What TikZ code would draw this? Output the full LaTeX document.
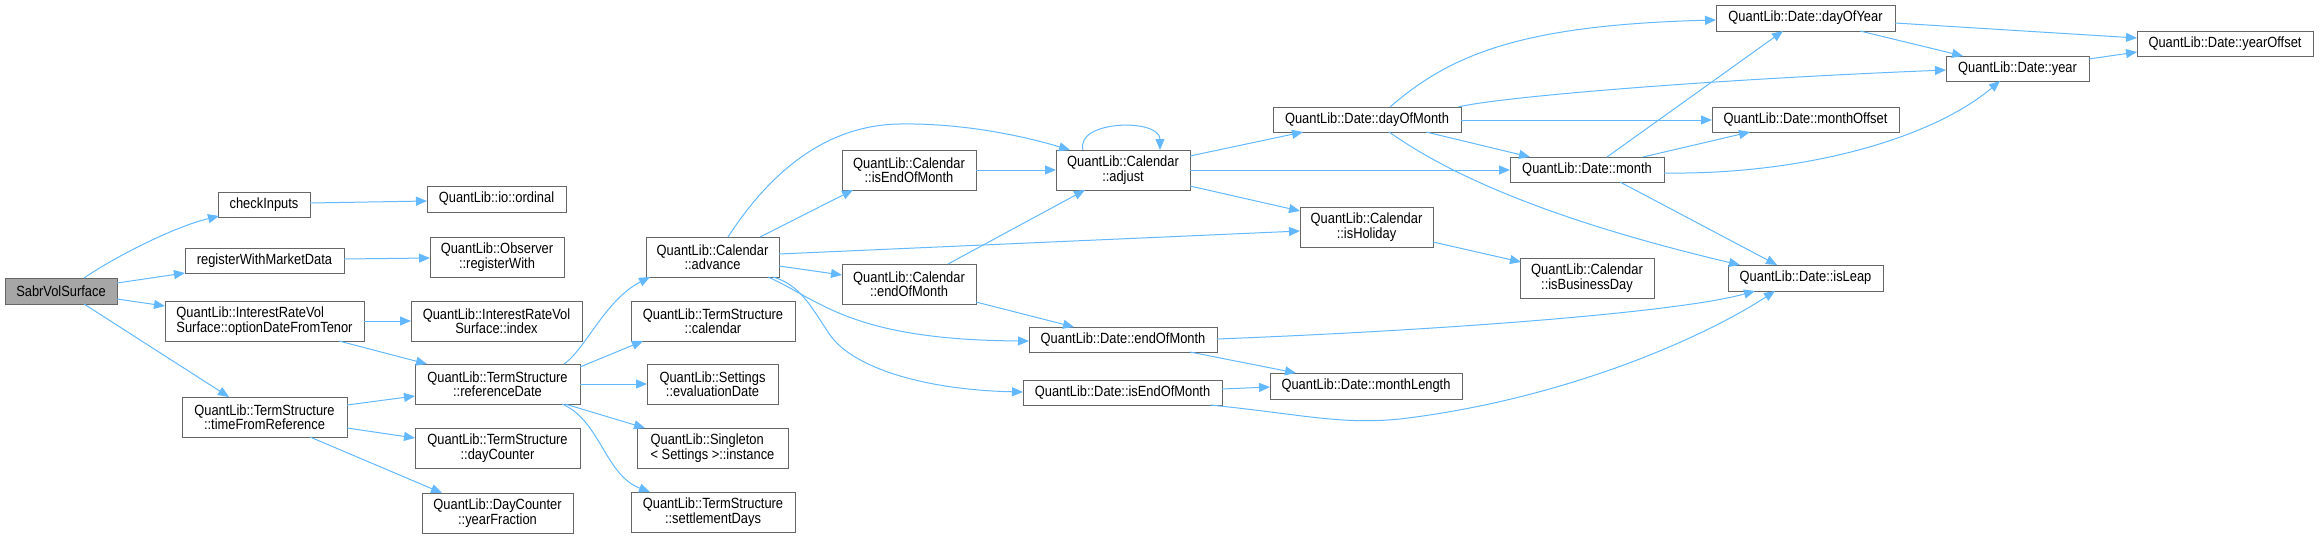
\documentclass[tikz,border=0pt]{standalone}
\usepackage{fontspec}
\setmainfont{Liberation Sans}[FakeStretch=0.87]
\usetikzlibrary{calc,arrows.meta}
\definecolor{edgeblue}{HTML}{63B8FF}
\definecolor{boxgray}{HTML}{666666}
\definecolor{rootfill}{HTML}{A6A6A6}
\tikzset{
  box/.style={draw=boxgray, fill=white, line width=1pt, inner sep=0pt, outer sep=0pt,
    align=center, font=\fontsize{14.8}{14.5}\selectfont},
  leftbox/.style={box, align=left},
  rootbox/.style={box, fill=rootfill},
  e/.style={draw=edgeblue, line width=1pt, -{Triangle[length=11pt,width=9pt]}, fill=none}
}
\begin{document}
\begin{tikzpicture}[x=1pt,y=-1pt]
\useasboundingbox (0,0) rectangle (2319,538);
% column 1
\node[rootbox, minimum width=112pt, minimum height=26pt] (sabr) at (61,291) {SabrVolSurface};
% column 2
\node[box, minimum width=92pt, minimum height=25pt] (checkInputs) at (264,204.5) {checkInputs};
\node[box, minimum width=159pt, minimum height=25pt] (regMD) at (264.5,260.5) {registerWithMarketData};
\node[leftbox, minimum width=199pt, minimum height=40pt] (optDate) at (264.5,321) {QuantLib::InterestRateVol\\Surface::optionDateFromTenor};
\node[box, minimum width=165pt, minimum height=40pt] (timeFromRef) at (264.5,417) {QuantLib::TermStructure\\::timeFromReference};
% column 3
\node[box, minimum width=139pt, minimum height=26pt] (ordinal) at (496.5,199) {QuantLib::io::ordinal};
\node[box, minimum width=134pt, minimum height=40pt] (registerWith) at (497,257) {QuantLib::Observer\\::registerWith};
\node[box, minimum width=171pt, minimum height=40pt] (index) at (496.5,321) {QuantLib::InterestRateVol\\Surface::index};
\node[box, minimum width=165pt, minimum height=40pt] (refDate) at (497.5,384) {QuantLib::TermStructure\\::referenceDate};
\node[box, minimum width=165pt, minimum height=40pt] (dayCounter) at (497.5,448) {QuantLib::TermStructure\\::dayCounter};
\node[box, minimum width=151pt, minimum height=40pt] (yearFraction) at (497.5,513) {QuantLib::DayCounter\\::yearFraction};
% column 4
\node[box, minimum width=133pt, minimum height=40pt] (advance) at (712.5,257) {QuantLib::Calendar\\::advance};
\node[box, minimum width=164pt, minimum height=40pt] (tsCalendar) at (713,321) {QuantLib::TermStructure\\::calendar};
\node[box, minimum width=131pt, minimum height=40pt] (evalDate) at (712.5,384) {QuantLib::Settings\\::evaluationDate};
\node[leftbox, minimum width=151pt, minimum height=40pt] (singleton) at (712.5,448) {QuantLib::Singleton\\< Settings >::instance};
\node[box, minimum width=164pt, minimum height=40pt] (settlementDays) at (713,512) {QuantLib::TermStructure\\::settlementDays};
% column 5
\node[box, minimum width=134pt, minimum height=40pt] (calIsEOM) at (909,170) {QuantLib::Calendar\\::isEndOfMonth};
\node[box, minimum width=134pt, minimum height=40pt] (calEOM) at (909,284) {QuantLib::Calendar\\::endOfMonth};
% column 6
\node[box, minimum width=134pt, minimum height=40pt] (adjust) at (1123,170) {QuantLib::Calendar\\::adjust};
\node[box, minimum width=188pt, minimum height=25pt] (dateEOM) at (1123,339.5) {QuantLib::Date::endOfMonth};
\node[box, minimum width=199pt, minimum height=25pt] (dateIsEOM) at (1122.5,392.5) {QuantLib::Date::isEndOfMonth};
% column 7
\node[box, minimum width=188pt, minimum height=25pt] (dayOfMonth) at (1367,119.5) {QuantLib::Date::dayOfMonth};
\node[box, minimum width=133pt, minimum height=40pt] (isHoliday) at (1366.5,227) {QuantLib::Calendar\\::isHoliday};
\node[box, minimum width=192pt, minimum height=26pt] (monthLength) at (1366,386) {QuantLib::Date::monthLength};
% column 8
\node[box, minimum width=179pt, minimum height=26pt] (dayOfYear) at (1805.5,18) {QuantLib::Date::dayOfYear};
\node[box, minimum width=187pt, minimum height=25pt] (monthOffset) at (1805.5,119.5) {QuantLib::Date::monthOffset};
\node[box, minimum width=154pt, minimum height=25pt] (month) at (1587,169.5) {QuantLib::Date::month};
\node[box, minimum width=134pt, minimum height=40pt] (isBusinessDay) at (1587,278) {QuantLib::Calendar\\::isBusinessDay};
% column 9
\node[box, minimum width=143pt, minimum height=25pt] (year) at (2017.5,68.5) {QuantLib::Date::year};
\node[box, minimum width=155pt, minimum height=26pt] (isLeap) at (1805.5,278) {QuantLib::Date::isLeap};
% column 10
\node[box, minimum width=176pt, minimum height=25pt] (yearOffset) at (2225,43.5) {QuantLib::Date::yearOffset};

% edges
\draw[e] ($(sabr.north west)+(79,0)$) .. controls (110,260) and (170,228) .. ($(checkInputs.north west)+(1,24)$);
\draw[e] ($(sabr.north west)+(112,5)$) -- ($(regMD.north west)+(0,25)$);
\draw[e] ($(sabr.north west)+(112,21)$) -- ($(optDate.north west)+(0,5)$);
\draw[e] ($(sabr.north west)+(79,26)$) -- ($(timeFromRef.north west)+(47,0)$);
\draw[e] ($(checkInputs.north west)+(92,11)$) -- ($(ordinal.north west)+(0,15)$);
\draw[e] ($(regMD.north west)+(159,11)$) -- ($(registerWith.north west)+(0,21)$);
\draw[e] ($(optDate.north west)+(199,20)$) -- ($(index.north west)+(0,20)$);
\draw[e] ($(optDate.north west)+(174,40)$) -- ($(refDate.north west)+(12,0)$);
\draw[e] ($(timeFromRef.north west)+(165,8)$) -- ($(refDate.north west)+(0,32)$);
\draw[e] ($(timeFromRef.north west)+(165,31)$) -- ($(dayCounter.north west)+(0,10)$);
\draw[e] ($(timeFromRef.north west)+(128,40)$) -- ($(yearFraction.north west)+(20,0)$);
\draw[e] ($(refDate.north west)+(149,0)$) .. controls (585,350) and (605,300) .. ($(advance.north west)+(4,40)$);
\draw[e] ($(refDate.north west)+(165,3)$) -- ($(tsCalendar.north west)+(12,40)$);
\draw[e] ($(refDate.north west)+(165,20)$) -- ($(evalDate.north west)+(0,20)$);
\draw[e] ($(refDate.north west)+(150,40)$) -- ($(singleton.north west)+(8,0)$);
\draw[e] ($(refDate.north west)+(147,40)$) .. controls (600,420) and (605,475) .. ($(settlementDays.north west)+(19,0)$);
\draw[e] ($(advance.north west)+(82,0)$) .. controls (765,180) and (820,125) .. (900,124) .. controls (960,123) and (1020,135) .. ($(adjust.north west)+(14,0)$);
\draw[e] ($(advance.north west)+(114,0)$) -- ($(calIsEOM.north west)+(11,40)$);
\draw[e] ($(advance.north west)+(133,17)$) -- ($(isHoliday.north west)+(0,24)$);
\draw[e] ($(advance.north west)+(133,29)$) -- ($(calEOM.north west)+(0,11)$);
\draw[e] ($(advance.north west)+(122,40)$) .. controls (820,300) and (850,340) .. ($(dateEOM.north west)+(0,14)$);
\draw[e] ($(advance.north west)+(127,40)$) .. controls (800,285) and (810,305) .. (830,335) .. controls (855,370) and (930,390) .. ($(dateIsEOM.north west)+(0,12)$);
\draw[e] ($(calIsEOM.north west)+(134,20)$) -- ($(adjust.north west)+(0,20)$);
\draw[e] ($(calEOM.north west)+(106,0)$) -- ($(adjust.north west)+(29,40)$);
\draw[e] ($(calEOM.north west)+(134,38)$) -- ($(dateEOM.north west)+(45,0)$);
\draw[e] ($(adjust.north west)+(27,0)$) .. controls (1075,120) and (1160,118) .. ($(adjust.north west)+(104,0)$);
\draw[e] ($(adjust.north west)+(134,6)$) -- ($(dayOfMonth.north west)+(30,25)$);
\draw[e] ($(adjust.north west)+(134,20)$) -- ($(month.north west)+(0,13)$);
\draw[e] ($(adjust.north west)+(134,36)$) -- ($(isHoliday.north west)+(0,4)$);
\draw[e] ($(dayOfMonth.north west)+(117,0)$) .. controls (1450,55) and (1520,25) .. ($(dayOfYear.north west)+(0,15)$);
\draw[e] ($(dayOfMonth.north west)+(185,0)$) .. controls (1500,97) and (1700,80) .. ($(year.north west)+(0,14)$);
\draw[e] ($(dayOfMonth.north west)+(188,13)$) -- ($(monthOffset.north west)+(0,13)$);
\draw[e] ($(dayOfMonth.north west)+(153,25)$) -- ($(month.north west)+(20,0)$);
\draw[e] ($(dayOfMonth.north west)+(116,25)$) .. controls (1450,175) and (1550,220) .. ($(isLeap.north west)+(12,0)$);
\draw[e] ($(isHoliday.north west)+(133,35)$) -- ($(isBusinessDay.north west)+(1,4)$);
\draw[e] ($(dateEOM.north west)+(188,12)$) .. controls (1450,330) and (1680,312) .. ($(isLeap.north west)+(27,26)$);
\draw[e] ($(dateEOM.north west)+(161,25)$) -- ($(monthLength.north west)+(26,0)$);
\draw[e] ($(dateIsEOM.north west)+(199,9)$) -- ($(monthLength.north west)+(0,14)$);
\draw[e] ($(dateIsEOM.north west)+(187,25)$) .. controls (1300,414) and (1340,425) .. (1400,419) .. controls (1560,400) and (1700,340) .. ($(isLeap.north west)+(47,26)$);
\draw[e] ($(month.north west)+(97,0)$) -- ($(dayOfYear.north west)+(67,26)$);
\draw[e] ($(month.north west)+(133,0)$) -- ($(monthOffset.north west)+(38,25)$);
\draw[e] ($(month.north west)+(154,16)$) .. controls (1800,175) and (1930,140) .. ($(year.north west)+(54,25)$);
\draw[e] ($(month.north west)+(110,25)$) -- ($(isLeap.north west)+(49,0)$);
\draw[e] ($(dayOfYear.north west)+(179,18)$) -- ($(yearOffset.north west)+(0,7)$);
\draw[e] ($(dayOfYear.north west)+(144,26)$) -- ($(year.north west)+(17,0)$);
\draw[e] ($(year.north west)+(143,3)$) -- ($(yearOffset.north west)+(0,21)$);
\end{tikzpicture}
\end{document}
